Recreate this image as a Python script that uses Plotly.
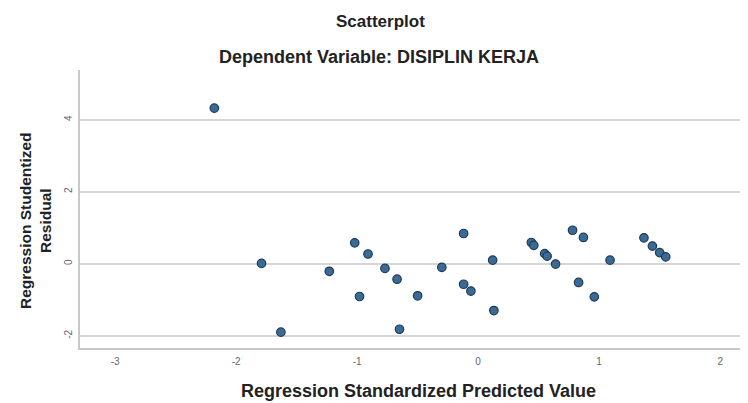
import plotly.graph_objects as go

# Regression Standardized Predicted Value
pred = [-2.18, -1.79, -1.63, -1.23, -1.02, -0.98, -0.91, -0.77, -0.67, -0.65,
        -0.50, -0.30, -0.12, -0.12, -0.06, 0.12, 0.13, 0.44, 0.46, 0.55,
        0.57, 0.64, 0.78, 0.83, 0.87, 0.96, 1.09, 1.37, 1.44, 1.50, 1.55]
# Regression Studentized Residual
resid = [4.32, 0.01, -1.90, -0.21, 0.58, -0.91, 0.27, -0.13, -0.43, -1.82,
         -0.89, -0.10, 0.84, -0.57, -0.76, 0.10, -1.30, 0.59, 0.51, 0.28,
         0.21, -0.01, 0.93, -0.52, 0.73, -0.92, 0.10, 0.72, 0.49, 0.31, 0.19]

x_ticks = [-3, -2, -1, 0, 1, 2]
y_ticks = [-2, 0, 2, 4]

FONT = "Liberation Sans, Arial, sans-serif"

# page body has an 8px margin; figure is sized so it fills the 748x403 window
fig = go.Figure()
fig.add_trace(go.Scatter(
    x=pred, y=resid, mode="markers",
    marker=dict(size=8.5, color="#3b6b95", line=dict(color="#1d3a57", width=1.2)),
    showlegend=False,
))

fig.update_layout(
    width=740, height=395,
    margin=dict(l=72, r=0, t=62, b=55),
    paper_bgcolor="white", plot_bgcolor="white",
    font=dict(family=FONT, color="#222"),
    xaxis=dict(
        range=[-3.29, 2.23], tickvals=x_ticks, ticktext=[str(v) for v in x_ticks],
        showgrid=False, zeroline=False, showline=True, linecolor="#c8c8c8", linewidth=2,
        ticks="", tickfont=dict(size=10, color="#666"), ticklabelstandoff=3,
    ),
    yaxis=dict(
        range=[-2.34, 5.38], tickvals=y_ticks, ticktext=[str(v) for v in y_ticks],
        showgrid=True, gridcolor="#d6d6d6", gridwidth=1.5,
        zeroline=False, showline=True, linecolor="#c8c8c8", linewidth=2,
        ticks="", tickangle=-90, tickfont=dict(size=10, color="#666"), ticklabelstandoff=2,
    ),
    annotations=[
        dict(text="<b>Scatterplot</b>", xref="paper", yref="paper",
             x=(380 - 80) / 668, y=(348 - 22) / 278, xanchor="center", yanchor="middle",
             showarrow=False, font=dict(size=17, color="#222")),
        dict(text="<b>Dependent Variable: DISIPLIN KERJA</b>", xref="paper", yref="paper",
             x=(379 - 80) / 668, y=(348 - 57) / 278, xanchor="center", yanchor="middle",
             showarrow=False, font=dict(size=18, color="#222")),
        dict(text="<b>Regression Studentized<br>Residual</b>", xref="paper", yref="paper",
             x=(35 - 80) / 668, y=(348 - 221) / 278, xanchor="center", yanchor="middle",
             textangle=-90, showarrow=False, font=dict(size=15.5, color="#222")),
        dict(text="<b>Regression Standardized Predicted Value</b>", xref="paper", yref="paper",
             x=(418 - 80) / 668, y=(348 - 391) / 278, xanchor="center", yanchor="middle",
             showarrow=False, font=dict(size=18, color="#222")),
    ],
)

fig.write_html("out.html")
